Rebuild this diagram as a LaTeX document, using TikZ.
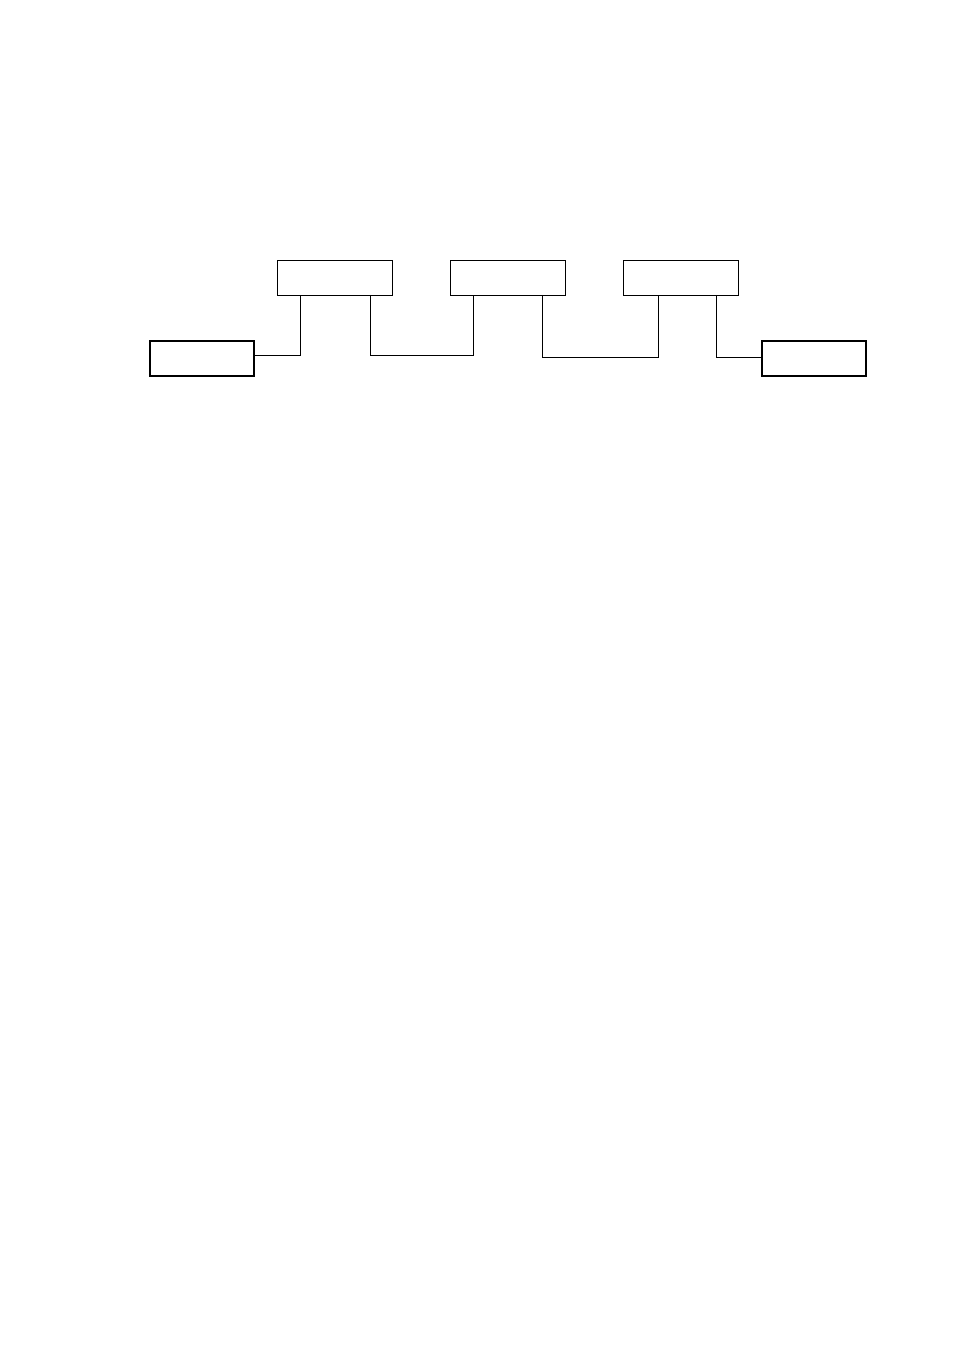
\documentclass[tikz,border=0pt]{standalone}
\usetikzlibrary{positioning}

\newlength{\unitlen}
\setlength{\unitlen}{0.22mm}
\tikzset{
    block/.style={draw, line width=0.6pt, minimum width=115\unitlen, minimum height=35\unitlen, inner sep=0pt},
    endblock/.style={draw, line width=1pt, minimum width=104\unitlen, minimum height=35\unitlen, inner sep=0pt},
    wire/.style={line width=0.6pt}
}

\begin{document}
\begin{tikzpicture}[x=0.22mm, y=-0.22mm]
    \useasboundingbox (0,0) rectangle (954,1351);

    % Draw the three upper blocks
    \node[block] (upA) at (334.5, 277.5) {};
    \node[block] (upB) at (508, 277.5) {};
    \node[block] (upC) at (681, 277.5) {};

    % Draw the two end blocks
    \node[endblock] (inL) at (202, 358.5) {};
    \node[endblock] (outR) at (814, 358.5) {};

    % Ports on the blocks
    \coordinate (inLport) at (254, 355);
    \coordinate (upAleft) at (300, 295);
    \coordinate (upAright) at (370, 295);
    \coordinate (upBleft) at (473, 295);
    \coordinate (upBright) at (542, 295);
    \coordinate (upCleft) at (658, 295);
    \coordinate (upCright) at (716, 295);
    \coordinate (outRport) at (762, 357);

    % Draw the wires
    \draw[wire] (inLport) -| (upAleft);
    \draw[wire] (upAright) |- (473, 355) -- (upBleft);
    \draw[wire] (upBright) |- (658, 357) -- (upCleft);
    \draw[wire] (upCright) |- (outRport);
\end{tikzpicture}
\end{document}
